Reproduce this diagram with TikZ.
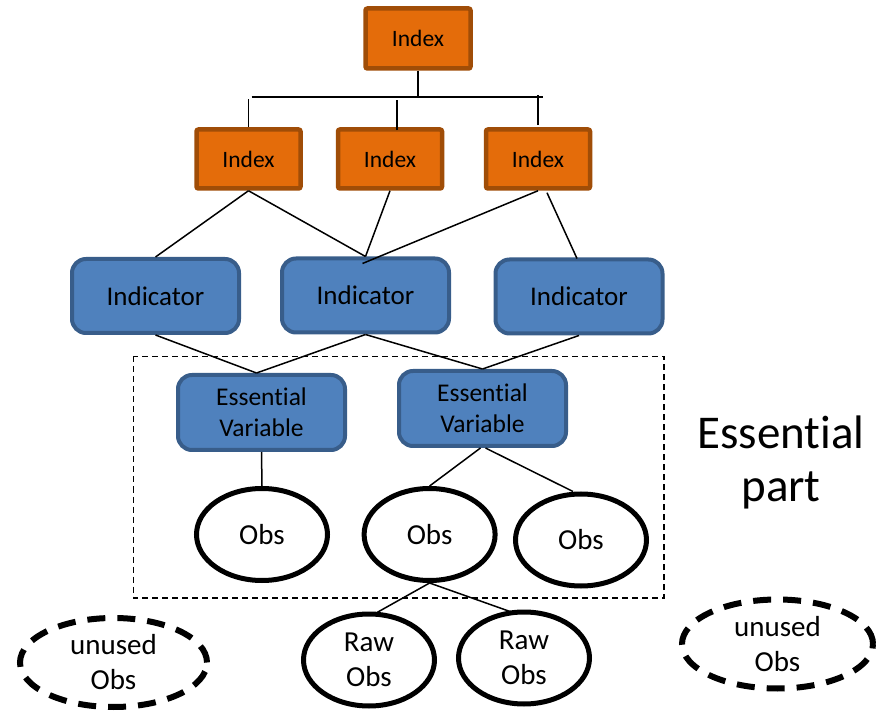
\documentclass[tikz,border=0pt]{standalone}
\usepackage{fontspec}
\setmainfont{Carlito}[Ligatures={NoCommon}]
\usetikzlibrary{shapes.geometric,calc}
\definecolor{orfill}{HTML}{E46C0A}
\definecolor{ordraw}{HTML}{A04D07}
\definecolor{blfill}{HTML}{4F81BD}
\definecolor{bldraw}{HTML}{385D8A}
\begin{document}
\begin{tikzpicture}[x=1pt,y=-1pt,
  idxbox/.style={draw=ordraw,fill=orfill,line width=4.5pt,rounded corners=2pt,
    minimum width=105pt,minimum height=60pt,inner sep=0pt,
    font=\fontsize{23.5}{27}\selectfont},
  indbox/.style={draw=bldraw,fill=blfill,line width=4pt,rounded corners=14pt,
    minimum width=167pt,minimum height=74pt,inner sep=0pt,
    font=\fontsize{27}{30}\selectfont},
  esbox/.style={indbox,minimum height=75pt,align=center,
    font=\fontsize{25.5}{31}\selectfont},
  obs/.style={ellipse,draw=black,line width=5pt,minimum width=131pt,
    minimum height=92pt,inner sep=0pt,align=center,
    font=\fontsize{29}{35}\selectfont},
  unused/.style={obs,line width=6pt,dash pattern=on 18pt off 12pt,
    minimum width=187pt,minimum height=89pt},
  conn/.style={line width=1.5pt,black},
  grp/.style={line width=1.5pt,dash pattern=on 6pt off 4pt}
]
\useasboundingbox (0,0) rectangle (879,711);

% group box
\draw[grp] (133.5,356.5) rectangle (664,598);

% index nodes
\node[idxbox] (top) at (418,38.5) {Index};
\node[idxbox,minimum width=104pt,minimum height=59pt] (i1) at (248.5,159) {Index};
\node[idxbox,minimum width=104pt,minimum height=59pt] (i2) at (390,159) {Index};
\node[idxbox,minimum width=104pt,minimum height=59pt] (i3) at (538,159) {Index};

% indicators
\node[indbox] (ind1) at (155.5,296) {Indicator};
\node[indbox] (ind2) at (365.5,295.5) {Indicator};
\node[indbox] (ind3) at (579,296.5) {Indicator};

% essential variables
\node[esbox] (es1) at (261.5,412.5) {Essential\\Variable};
\node[esbox] (es2) at (482.5,408.5) {Essential\\Variable};

% observations
\node[obs] (o1) at (262,534.5) {Obs};
\node[obs] (o2) at (429.6,534.5) {Obs};
\node[obs] (o3) at (581,540) {Obs};
\node[obs] (r1) at (369,660) {Raw\\Obs};
\node[obs] (r2) at (524,658) {Raw\\Obs};
\node[unused] (u1) at (113.5,662.5) {unused\\Obs};
\node[unused,minimum width=191pt,minimum height=89pt] (u2) at (777.5,644) {unused\\Obs};

% label
\node[align=center,inner sep=0pt,font=\fontsize{47}{53}\selectfont] (lbl) at (781,462) {Essential\\part};

% bus
\coordinate (busL) at (251.5,97);
\coordinate (busR) at (543,97);
\draw[conn] (busL) -- (busR);
\draw[conn] (top.south) -- (top.south |- busL);
\draw[conn] (i1.north) -- ++(0,-28);
\draw[conn] ($(i2.north)+(7,3)$) -- ++(0,-30);
\draw[conn] ($(i3.north)+(0,-2)$) -- ++(0,-30);

% index -> indicator
\draw[conn] (i1.south) -- (ind1.north);
\draw[conn] (i1.south) -- (ind2.north);
\draw[conn] (i2.south) -- (ind2.north);
\draw[conn] (i3.south) -- ($(ind2.north)+(-3,7)$);
\draw[conn] ($(i3.south)+(9,2)$) -- ($(ind3.north)+(-2,1)$);

% indicator -> EV
\draw[conn] (ind1.south) -- ($(es1.north)+(-5,0)$);
\draw[conn] (ind2.south) -- ($(es1.north)+(-5,0)$);
\draw[conn] (ind2.south) -- (es2.north);
\draw[conn] (ind3.south) -- (es2.north);

% EV -> obs
\draw[conn] (es1.south) -- (o1.north);
\draw[conn] ($(es2.south)+(-2,0)$) -- (o2.north);
\draw[conn] ($(es2.south)+(3,0)$) -- ($(o3.north)+(-8,0)$);

% obs -> raw
\draw[conn] (o2.south) -- ($(r1.north)+(8,1)$);
\draw[conn] (o2.south) -- ($(r2.north)+(-14,2)$);
\end{tikzpicture}
\end{document}
